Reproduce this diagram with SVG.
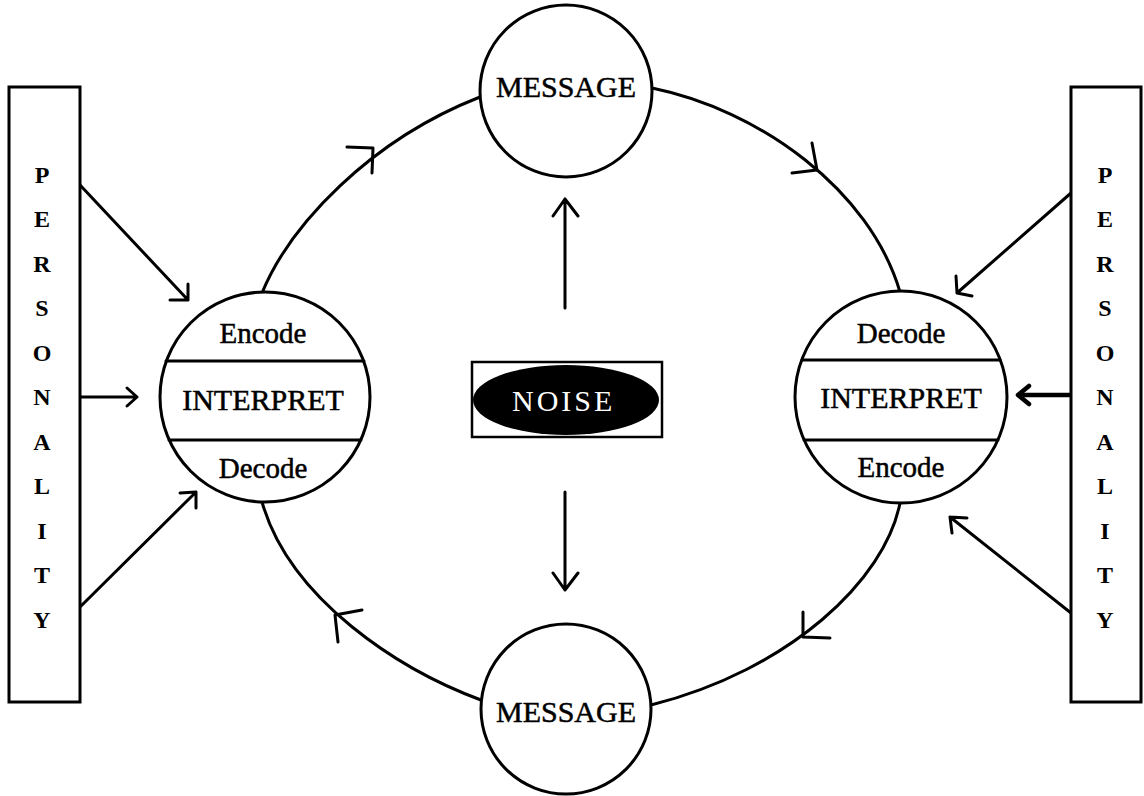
<svg xmlns="http://www.w3.org/2000/svg" width="1144" height="796" viewBox="0 0 1144 796">
<style>
.ln{fill:none;stroke:#000;stroke-width:3;stroke-linecap:round;stroke-linejoin:round}
.nd{fill:#fff;stroke:#000;stroke-width:3}
.t{font-family:"Liberation Serif","Times New Roman",serif;fill:#000;stroke:#000;stroke-width:0.5;text-anchor:middle}
.big{font-size:30px}
.sm{font-size:29px}
.let{font-size:24px;font-weight:bold;stroke-width:0}
</style>
<rect width="1144" height="796" fill="#fff"/>
<g id="connectors">
  <path class="ln" d="M262,293 C290,225 370,140 480,97"/>
  <path class="ln" d="M373,148 L347,147 M373,148 L372,173"/>
  <path class="ln" d="M652,88 C760,110 870,190 900,292"/>
  <path class="ln" d="M817,170 L812,143 M817,170 L792,173"/>
  <path class="ln" d="M900,503 C885,580 790,670 651,705"/>
  <path class="ln" d="M803,637 L803,612 M803,637 L830,638"/>
  <path class="ln" d="M481,700 C400,670 290,600 262,502"/>
  <path class="ln" d="M335,615 L362,610 M335,615 L338,642"/>
  <path class="ln" d="M80,185 L188,300 M188,300 L170,300 M188,300 L188,284"/>
  <path class="ln" d="M80,397 L137,397 M137,397 L127,388 M137,397 L127,406"/>
  <path class="ln" d="M80,607 L196,492 M196,492 L180,493 M196,492 L196,508"/>
  <path class="ln" d="M1071,193 L957,293 M957,293 L956,276 M957,293 L972,296"/>
  <path class="ln" d="M1071,395 L1019,395" style="stroke-width:4.5"/>
  <path class="ln" d="M1029,386 L1018,395 L1029,404" style="stroke-width:4.5"/>
  <path class="ln" d="M1071,613 L950,517 M950,517 L967,518 M950,517 L952,533"/>
  <path class="ln" d="M565,308 L565,199 M565,199 L553,216 M565,199 L578,216"/>
  <path class="ln" d="M565,492 L565,590 M565,590 L553,573 M565,590 L578,573"/>
</g>
<g id="personality-left">
  <rect x="9" y="87" width="71" height="615" class="nd"/>
  <text class="t let" x="42" y="183">P</text>
  <text class="t let" x="42" y="227">E</text>
  <text class="t let" x="42" y="272">R</text>
  <text class="t let" x="42" y="316">S</text>
  <text class="t let" x="42" y="361">O</text>
  <text class="t let" x="42" y="405">N</text>
  <text class="t let" x="42" y="450">A</text>
  <text class="t let" x="42" y="494">L</text>
  <text class="t let" x="42" y="539">I</text>
  <text class="t let" x="42" y="583">T</text>
  <text class="t let" x="42" y="628">Y</text>
</g>
<g id="personality-right">
  <rect x="1071" y="87" width="70" height="615" class="nd"/>
  <text class="t let" x="1105" y="183">P</text>
  <text class="t let" x="1105" y="227">E</text>
  <text class="t let" x="1105" y="272">R</text>
  <text class="t let" x="1105" y="316">S</text>
  <text class="t let" x="1105" y="361">O</text>
  <text class="t let" x="1105" y="405">N</text>
  <text class="t let" x="1105" y="450">A</text>
  <text class="t let" x="1105" y="494">L</text>
  <text class="t let" x="1105" y="539">I</text>
  <text class="t let" x="1105" y="583">T</text>
  <text class="t let" x="1105" y="628">Y</text>
</g>
<g id="message-top">
  <circle cx="566" cy="91" r="86" class="nd"/>
  <text class="t big" x="566" y="97">MESSAGE</text>
</g>
<g id="message-bottom">
  <circle cx="566" cy="709" r="85" class="nd"/>
  <text class="t big" x="566" y="722">MESSAGE</text>
</g>
<g id="interpret-left">
  <circle cx="265" cy="397" r="105" class="nd"/>
  <line x1="166" y1="361" x2="364" y2="361" class="ln"/>
  <line x1="169" y1="440" x2="361" y2="440" class="ln"/>
  <text class="t sm" x="263" y="343">Encode</text>
  <text class="t big" x="263" y="410">INTERPRET</text>
  <text class="t sm" x="263" y="478">Decode</text>
</g>
<g id="interpret-right">
  <circle cx="901" cy="397" r="106" class="nd"/>
  <line x1="802" y1="360" x2="1000" y2="360" class="ln"/>
  <line x1="804" y1="440" x2="998" y2="440" class="ln"/>
  <text class="t sm" x="901" y="343">Decode</text>
  <text class="t big" x="901" y="408">INTERPRET</text>
  <text class="t sm" x="901" y="477">Encode</text>
</g>
<g id="noise">
  <rect x="472" y="362" width="190" height="75" fill="#fff" stroke="#000" stroke-width="2.5"/>
  <ellipse cx="566" cy="400" rx="93" ry="35" fill="#000"/>
  <text x="512" y="411" style="font-family:'Liberation Serif','Times New Roman',serif;font-size:30px;letter-spacing:3px;fill:#fff">NOISE</text>
</g>
</svg>
